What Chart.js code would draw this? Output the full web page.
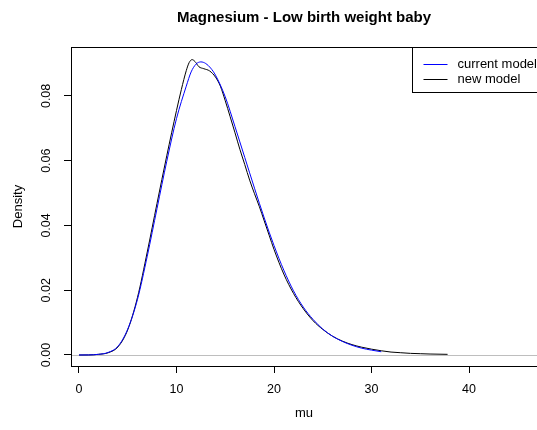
<!DOCTYPE html>
<html>
<head>
<meta charset="utf-8">
<script src="https://cdn.jsdelivr.net/npm/chart.js@4.4.1/dist/chart.umd.min.js"></script>
<style>
  html, body { margin: 0; padding: 0; background: #fff; }
  canvas { display: block; }
</style>
</head>
<body>
<canvas id="densityChart" width="537" height="430"></canvas>
<script>
// Posterior densities of mu
const chartTitle = 'Magnesium - Low birth weight baby';
const xLabel = 'mu';
const yLabel = 'Density';

const xTicks = [0, 10, 20, 30, 40];
const yTicks = [0, 0.02, 0.04, 0.06, 0.08];

// current model (smooth curve, blue)
const currentModelX = [0, 1, 2, 3, 4, 5, 6, 7, 8, 9, 10, 11, 11.5, 12, 12.5, 13, 13.5, 14, 15, 16,
  17, 18, 19, 20, 21, 22, 23, 24, 25, 26, 27, 28, 29, 30, 31];
const currentModelY = [0, 0.00002, 0.0002, 0.0008, 0.0027, 0.0080, 0.0172, 0.0305, 0.0452, 0.0598,
  0.0730, 0.0830, 0.0874, 0.0898, 0.0905, 0.0900, 0.0886, 0.0864, 0.0797, 0.0705,
  0.0610, 0.0515, 0.0423, 0.0338, 0.0262, 0.0198, 0.0148, 0.0110, 0.0080, 0.0058,
  0.0042, 0.0030, 0.0021, 0.0015, 0.0010];

// new model (sampled density, black)
const newModelX = [0, 1, 2, 3, 4, 5, 6, 7, 8, 9, 10, 10.5, 11, 11.3, 11.6, 11.9, 12.3, 12.8, 13.4, 14,
  14.5, 15, 15.5, 16, 16.5, 17, 17.5, 18, 18.5, 19, 19.5, 20, 21, 22, 23, 24, 25, 26,
  27, 28, 29, 30, 31, 32, 33, 34, 35, 36, 37.8];
const newModelY = [0, 0.00002, 0.0002, 0.0007, 0.0025, 0.0078, 0.0178, 0.0318, 0.0468, 0.0615,
  0.0755, 0.0820, 0.0878, 0.0903, 0.0912, 0.0906, 0.0890, 0.0884, 0.0877, 0.0858,
  0.0830, 0.0785, 0.0736, 0.0686, 0.0635, 0.0588, 0.0540, 0.0498, 0.0458, 0.0414,
  0.0370, 0.0326, 0.0250, 0.0190, 0.0143, 0.0106, 0.0079, 0.0058, 0.0043, 0.0032,
  0.0024, 0.0018, 0.0013, 0.0009, 0.0007, 0.0005, 0.0004, 0.0003, 0.0002];

const toPoints = (xs, ys) => xs.map((x, i) => ({ x: x, y: ys[i] }));

Chart.defaults.font.family = '"Liberation Sans", Arial, Helvetica, sans-serif';
Chart.defaults.color = '#000';

// gray reference line at zero plus the box round the plot region
const frame = {
  id: 'frame',
  beforeDatasetsDraw(chart) {
    const { ctx, chartArea: a, scales } = chart;
    const y0 = Math.round(scales.y.getPixelForValue(0)) + 0.5;
    ctx.save();
    ctx.strokeStyle = '#bebebe';
    ctx.lineWidth = 1;
    ctx.beginPath();
    ctx.moveTo(a.left, y0);
    ctx.lineTo(a.right, y0);
    ctx.stroke();
    ctx.restore();
  },
  afterDraw(chart) {
    const { ctx, chartArea: a } = chart;
    ctx.save();
    ctx.strokeStyle = '#000';
    ctx.lineWidth = 1;
    ctx.strokeRect(Math.round(a.left) + 0.5, Math.round(a.top) + 0.5,
      Math.round(a.right - a.left), Math.round(a.bottom - a.top));
    ctx.restore();
  }
};

// boxed legend in the top right corner, like R's legend()
const boxLegend = {
  id: 'boxLegend',
  afterDraw(chart) {
    const { ctx, chartArea: a } = chart;
    const left = Math.round(a.right - 125) + 0.5;
    const top = Math.round(a.top) + 0.5;
    ctx.save();
    ctx.strokeStyle = '#000';
    ctx.lineWidth = 1;
    ctx.strokeRect(left, top, 200, 45);
    ctx.font = '13px "Liberation Sans", Arial, sans-serif';
    ctx.textBaseline = 'middle';
    ctx.fillStyle = '#000';
    chart.data.datasets.forEach((ds, i) => {
      const y = top + 17 + i * 15;
      ctx.strokeStyle = ds.borderColor;
      ctx.beginPath();
      ctx.moveTo(left + 11, y);
      ctx.lineTo(left + 35, y);
      ctx.stroke();
      ctx.fillText(ds.label, left + 45, y);
    });
    ctx.restore();
  }
};

new Chart(document.getElementById('densityChart').getContext('2d'), {
  type: 'line',
  data: {
    datasets: [
      {
        label: 'current model',
        data: toPoints(currentModelX, currentModelY),
        borderColor: '#0000ff',
        borderWidth: 1,
        pointRadius: 0,
        cubicInterpolationMode: 'monotone',
        fill: false
      },
      {
        label: 'new model',
        data: toPoints(newModelX, newModelY),
        borderColor: '#000000',
        borderWidth: 1,
        pointRadius: 0,
        cubicInterpolationMode: 'monotone',
        fill: false
      }
    ]
  },
  options: {
    responsive: false,
    animation: false,
    devicePixelRatio: 1,
    layout: { padding: 0 },
    plugins: {
      legend: { display: false },
      tooltip: { enabled: false },
      title: {
        display: true,
        text: chartTitle,
        fullSize: false,
        color: '#000',
        font: { size: 15, weight: 'bold' },
        padding: { top: 9, bottom: 20 }
      }
    },
    scales: {
      x: {
        type: 'linear',
        min: -0.82,
        max: 46.97,
        afterFit: (s) => { s.height = 64; },
        afterBuildTicks: (s) => { s.ticks = xTicks.map(v => ({ value: v })); },
        grid: { drawOnChartArea: false, drawTicks: true, tickLength: 7, tickColor: '#000', color: '#000' },
        border: { display: true, color: '#000' },
        ticks: { padding: 9, maxRotation: 0, autoSkip: false, font: { size: 12.5 } },
        title: { display: true, text: xLabel, font: { size: 13 }, padding: { top: 0, bottom: 9 } }
      },
      y: {
        type: 'linear',
        min: -0.0034,
        max: 0.0951,
        afterFit: (s) => { s.width = 71; },
        afterBuildTicks: (s) => { s.ticks = yTicks.map(v => ({ value: v })); },
        grid: { drawOnChartArea: false, drawTicks: true, tickLength: 7, tickColor: '#000', color: '#000' },
        border: { display: true, color: '#000' },
        ticks: {
          minRotation: 90,
          maxRotation: 90,
          crossAlign: 'center',
          padding: 5,
          autoSkip: false,
          font: { size: 12.5 },
          callback: (v) => v.toFixed(2)
        },
        title: { display: true, text: yLabel, font: { size: 13 }, padding: { top: 11, bottom: 0 } }
      }
    }
  },
  plugins: [frame, boxLegend]
});
</script>
</body>
</html>
